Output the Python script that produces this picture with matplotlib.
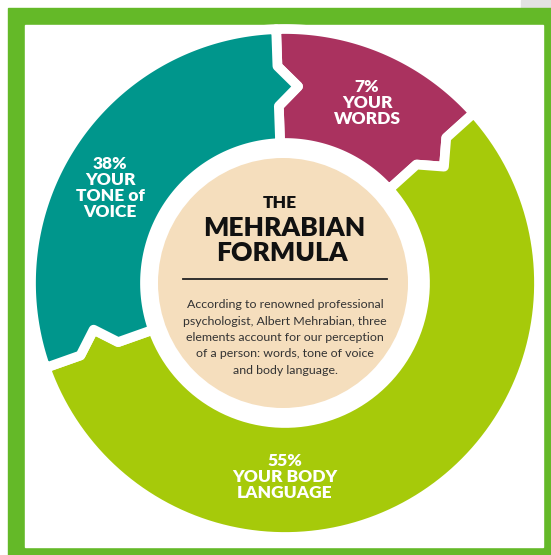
import numpy as np
import matplotlib
matplotlib.use("Agg")
import matplotlib.pyplot as plt
from matplotlib.patches import Polygon, Circle, Rectangle

# data
labels = ["YOUR\nWORDS", "YOUR BODY\nLANGUAGE", "YOUR\nTONE of\nVOICE"]
pct = [7, 55, 38]                 # printed percentages
spans_deg = [50, 202.5, 107.5]    # angular size of each slice as drawn
colors = ["#AA325F", "#A6CA0A", "#00968C"]
start_deg = 92                    # slices run clockwise from here

title = ["THE", "MEHRABIAN", "FORMULA"]
blurb = ["According to renowned professional",
         "psychologist, Albert Mehrabian, three",
         "elements account for our perception",
         "of a person: words, tone of voice",
         "and body language."]

plt.rcParams['font.family'] = ['Lato', 'DejaVu Sans']

fig = plt.figure(figsize=(5.51, 5.55), dpi=100)
ax = fig.add_axes([0, 0, 1, 1])
ax.set_xlim(0, 551)
ax.set_ylim(555, 0)
ax.axis("off")

# frame
ax.add_patch(Rectangle((0, 0), 551, 555, color="white", zorder=0))
ax.add_patch(Rectangle((521, 0), 30, 8, color="#E2E2E2", zorder=0))
ax.add_patch(Rectangle((8, 8), 560, 560, color="#64B928", zorder=1))
ax.add_patch(Rectangle((25, 25), 518, 522, color="white", zorder=2))

cx, cy = 285, 283
r_out, r_in = 254, 140
r_mid = (r_out + r_in) / 2
w = 20          # half width of the arrow base
d = 5.8         # arrow depth in degrees


def pt(r, a):
    a = np.radians(a)
    return (cx + r * np.cos(a), cy - r * np.sin(a))


a0 = start_deg
for span, col in zip(spans_deg, colors):
    s, e = a0, a0 - span
    pts = [pt(r_out, a) for a in np.linspace(s, e, 120)]
    pts += [pt(r_mid + w, e), pt(r_mid, e - d), pt(r_mid - w, e), pt(r_in, e)]
    pts += [pt(r_in, a) for a in np.linspace(e, s, 80)]
    pts += [pt(r_mid - w, s), pt(r_mid, s - d), pt(r_mid + w, s)]
    ax.add_patch(Polygon(pts, closed=True, facecolor=col, edgecolor="white",
                         lw=7, joinstyle="round", zorder=3))
    a0 = e

# centre disc
ax.add_patch(Circle((283, 283), 125, facecolor="#F5DEBD", edgecolor="none", zorder=4))

# slice labels
lab_pos = [(367, 103), (285, 477), (110, 188)]
for (x, y), p, lab in zip(lab_pos, pct, labels):
    ax.text(x, y, f"{p}%\n{lab}", color="white", fontsize=12.5, fontweight="heavy",
            ha="center", va="center", linespacing=1.0, zorder=5)

ax.text(280, 203, title[0], fontsize=12.5, fontweight="heavy", color="#111111",
        ha="center", va="center", zorder=5)
ax.text(284, 228, title[1], fontsize=19, fontweight="heavy", color="#111111",
        ha="center", va="center", zorder=5)
ax.text(282, 253, title[2], fontsize=19, fontweight="heavy", color="#111111",
        ha="center", va="center", zorder=5)
ax.plot([183, 387], [279, 279], color="#222222", lw=1.3, zorder=5)

for i, line in enumerate(blurb):
    ax.text(285, 305 + i * 16.3, line, fontsize=8.9, color="#333333",
            ha="center", va="center", zorder=5)

fig.savefig("out.png", dpi=100)
